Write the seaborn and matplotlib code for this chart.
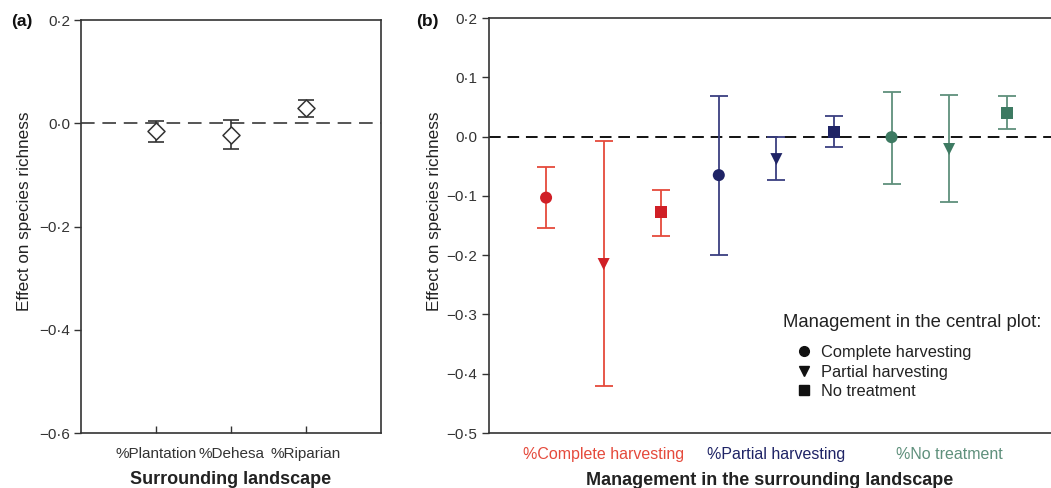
import numpy as np
import pandas as pd
import matplotlib
matplotlib.use("Agg")
import matplotlib.pyplot as plt
from matplotlib.lines import Line2D
from matplotlib.ticker import FuncFormatter
import seaborn as sns

# ---------------- data ----------------
# Panel (a)
a_categories = ["%Plantation", "%Dehesa", "%Riparian"]
a_effect = [-0.015, -0.022, 0.029]
a_lower = [-0.037, -0.050, 0.012]
a_upper = [0.005, 0.007, 0.046]

# Panel (b)
b_surrounding = ["%Complete harvesting"] * 3 + ["%Partial harvesting"] * 3 + ["%No treatment"] * 3
b_central = ["Complete harvesting", "Partial harvesting", "No treatment"] * 3
b_effect = [-0.103, -0.215, -0.128, -0.065, -0.038, 0.008, -0.001, -0.021, 0.040]
b_lower = [-0.155, -0.420, -0.167, -0.199, -0.073, -0.017, -0.080, -0.110, 0.012]
b_upper = [-0.052, -0.007, -0.090, 0.068, 0.000, 0.035, 0.076, 0.070, 0.069]
b_group_labels = ["%Complete harvesting", "%Partial harvesting", "%No treatment"]
legend_labels = ["Complete harvesting", "Partial harvesting", "No treatment"]

# ---------------- style ----------------
sns.set_theme(style="white")
plt.rcParams["font.family"] = ["Liberation Sans", "DejaVu Sans"]
plt.rcParams["axes.unicode_minus"] = True

dark = "#333333"
marker_cols = {"%Complete harvesting": "#d01f26", "%Partial harvesting": "#1f2466", "%No treatment": "#3d7a62"}
line_cols = {"%Complete harvesting": "#e54a3c", "%Partial harvesting": "#3a3f80", "%No treatment": "#5f907c"}
markers = {"Complete harvesting": "o", "Partial harvesting": "v", "No treatment": "s"}


def fmt(v, pos):
    s = f"{abs(v):.1f}".replace(".", "\u00b7")
    if v < -1e-9:
        s = "\u2212" + s
    return s


fig = plt.figure(figsize=(10.51, 4.88), dpi=100)
ax_a = fig.add_axes([0.0771, 0.1127, 0.2854, 0.8463])
ax_b = fig.add_axes([0.4648, 0.1127, 0.5352, 0.8504])

# ---------------- panel (a) ----------------
df_a = pd.DataFrame({"cat": a_categories, "effect": a_effect, "lo": a_lower, "hi": a_upper})
df_a["x"] = np.arange(1, len(df_a) + 1)
ax_a.axhline(0, color="#555555", lw=1.4, ls=(0, (7, 4)), zorder=1)
ax_a.errorbar(df_a["x"], df_a["effect"],
              yerr=[df_a["effect"] - df_a["lo"], df_a["hi"] - df_a["effect"]],
              fmt="none", ecolor=dark, elinewidth=1.2, capsize=5.5, capthick=1.2, zorder=2)
sns.scatterplot(data=df_a, x="x", y="effect", marker="D", s=75, color="white",
                edgecolor=dark, linewidth=1.1, ax=ax_a, zorder=3, legend=False)
ax_a.set_xlim(0, 4)
ax_a.set_ylim(-0.6, 0.2)
ax_a.set_yticks([-0.6, -0.4, -0.2, 0.0, 0.2])
ax_a.yaxis.set_major_formatter(FuncFormatter(fmt))
ax_a.set_xticks(df_a["x"])
ax_a.set_xticklabels(a_categories)
ax_a.tick_params(axis="x", direction="in", length=5, width=1, color=dark, labelsize=11, labelcolor=dark, pad=10)
ax_a.tick_params(axis="y", direction="out", length=5, width=1, color=dark, labelsize=11, labelcolor=dark, pad=3)
ax_a.tick_params(left=True, bottom=True)
for sp in ax_a.spines.values():
    sp.set_color(dark)
    sp.set_linewidth(1.2)
ax_a.set_xlabel("Surrounding landscape", fontsize=13, fontweight="bold", color="#222222", labelpad=7)
ax_a.set_ylabel("Effect on species richness", fontsize=12.3, color="#222222")
ax_a.yaxis.set_label_coords(-0.164, 0.537)
fig.text(0.011, 0.946, "(a)", fontsize=12.5, fontweight="bold", color="#111111")

# ---------------- panel (b) ----------------
df_b = pd.DataFrame({"surr": b_surrounding, "central": b_central, "effect": b_effect,
                     "lo": b_lower, "hi": b_upper})
df_b["x"] = np.arange(1, len(df_b) + 1)
ax_b.axhline(0, color="#111111", lw=1.4, ls=(0, (6, 3.5)), zorder=1)
for grp in b_group_labels:
    sub = df_b[df_b["surr"] == grp]
    ax_b.errorbar(sub["x"], sub["effect"],
                  yerr=[sub["effect"] - sub["lo"], sub["hi"] - sub["effect"]],
                  fmt="none", ecolor=line_cols[grp], elinewidth=1.3, capsize=6.5, capthick=1.3, zorder=2)
sns.scatterplot(data=df_b, x="x", y="effect", hue="surr", style="central",
                palette=marker_cols, markers=markers, s=75, edgecolor="none",
                ax=ax_b, zorder=3, legend=False)
ax_b.set_xlim(0, 9.77)
ax_b.set_ylim(-0.5, 0.2)
ax_b.set_yticks([-0.5, -0.4, -0.3, -0.2, -0.1, 0.0, 0.1, 0.2])
ax_b.yaxis.set_major_formatter(FuncFormatter(fmt))
ax_b.set_xticks([2, 5, 8])
ax_b.set_xticklabels(b_group_labels)
for lab, grp in zip(ax_b.get_xticklabels(), b_group_labels):
    lab.set_color(line_cols[grp] if grp != "%Partial harvesting" else marker_cols[grp])
ax_b.tick_params(axis="x", length=0, labelsize=11.5, pad=10)
ax_b.tick_params(axis="y", direction="out", length=5, width=1, color=dark, labelsize=11, labelcolor=dark, pad=3)
ax_b.tick_params(left=True, bottom=False)
for sp in ax_b.spines.values():
    sp.set_color(dark)
    sp.set_linewidth(1.2)
ax_b.spines["right"].set_visible(False)
ax_b.set_xlabel("Management in the surrounding landscape", fontsize=13, fontweight="bold",
                color="#222222", labelpad=7)
ax_b.set_ylabel("Effect on species richness", fontsize=12.3, color="#222222")
ax_b.yaxis.set_label_coords(-0.083, 0.535)
fig.text(0.396, 0.946, "(b)", fontsize=12.5, fontweight="bold", color="#111111")

# legend
ax_b.text(0.524, 0.266, "Management in the central plot:", transform=ax_b.transAxes,
          fontsize=13.3, color="#222222", va="center", ha="left")
handles = [Line2D([], [], marker=markers[k], color="#111111", ls="none", markersize=7)
           for k in legend_labels]
ax_b.legend(handles, legend_labels,
            loc="upper left", bbox_to_anchor=(0.532, 0.232), frameon=False, fontsize=11.8,
            handlelength=1.0, handletextpad=0.55, labelspacing=0.28, borderpad=0.0,
            labelcolor="#222222")

fig.savefig("out.png", dpi=100, facecolor="white")
